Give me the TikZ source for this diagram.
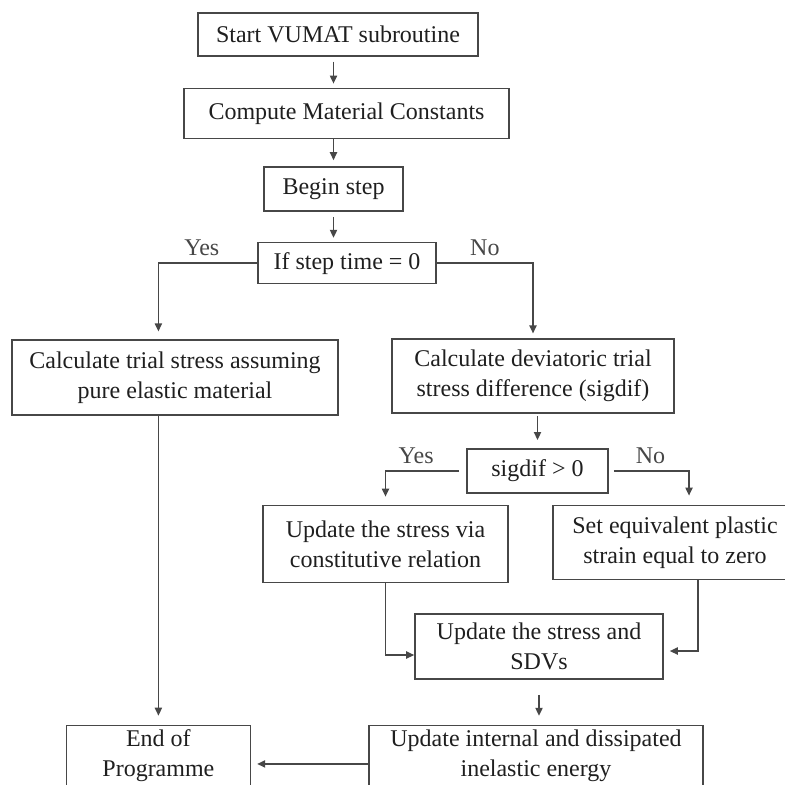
\documentclass[tikz,border=0pt]{standalone}
\usepackage{fontspec}
\setmainfont{Liberation Serif}
\usetikzlibrary{arrows.meta, positioning}
\begin{document}
\begin{tikzpicture}[
    x=0.5pt, y=-0.5pt,
    font=\fontsize{12pt}{15pt}\selectfont,
    stage/.style={
        rectangle, draw=black!72, line width=0.8pt,
        align=center, text=black!88, inner sep=2pt
    },
    arrow/.style={-{Triangle[length=4pt,width=3.6pt]}, line width=0.7pt, color=black!72}
]
\useasboundingbox (0,0) rectangle (785,784);
\clip (0,0) rectangle (785,784);
\node (start) [stage, minimum width=140pt, minimum height=21.5pt, anchor=north] at (338,12) {Start VUMAT subroutine};
\node (consts) [stage, minimum width=162.5pt, minimum height=25pt, below=15.5pt of start, xshift=4.25pt] {Compute Material Constants};
\node (bstep) [stage, minimum width=69.5pt, minimum height=22pt, below=13.5pt of consts, xshift=-6.5pt] {Begin step};
\node (tcheck) [stage, minimum width=89pt, minimum height=20.5pt, below=15pt of bstep, xshift=6.75pt] {If step time = 0};
\node (elastic) [stage, minimum width=163pt, minimum height=37.5pt, below=27.5pt of tcheck, xshift=-86pt] {Calculate trial stress assuming\\pure elastic material};
\node (deviat) [stage, minimum width=141pt, minimum height=37pt, below=27pt of tcheck, xshift=93pt] {Calculate deviatoric trial\\stress difference (sigdif)};
\node (sigcheck) [stage, minimum width=70.5pt, minimum height=22pt, below=17pt of deviat, xshift=2.25pt] {sigdif > 0};
\node (constit) [stage, minimum width=122.5pt, minimum height=38.5pt, below=5.5pt of sigcheck, xshift=-76pt] {Update the stress via\\constitutive relation};
\node (setzero) [stage, minimum width=122pt, minimum height=37pt, below=5.5pt of sigcheck, xshift=68.75pt] {Set equivalent plastic\\strain equal to zero};
\node (sdv) [stage, minimum width=124pt, minimum height=32.5pt, below=15pt of constit, xshift=76.75pt] {Update the stress and\\SDVs};
\node (energy) [stage, minimum width=167pt, minimum height=38pt, below=22.5pt of sdv, xshift=-1.5pt] {Update internal and dissipated\\inelastic energy\\[-4pt]\mbox{}};
\node (endprog) [stage, minimum width=92pt, minimum height=38pt, left=58.5pt of energy] {End of\\Programme\\[-4pt]\mbox{}};
\draw [arrow, shorten <=2.5pt, shorten >=2pt] (start.south -| bstep) -- (consts.north -| bstep);
\draw [arrow, shorten >=3pt] (consts.south -| bstep) -- (bstep.north);
\draw [arrow, shorten <=2.5pt, shorten >=2pt] (bstep.south) -- (tcheck.north -| bstep);
\draw [arrow, shorten >=4pt] (tcheck.west) -| node[pos=0.28, above] {Yes} (elastic.north -| endprog.north);
\draw [arrow, shorten >=2.5pt] (tcheck.east) -| node[pos=0.25, above] {No} (deviat.north);
\draw [arrow, shorten <=1pt, shorten >=4pt] (deviat.south -| sigcheck) -- (sigcheck.north);
\draw [arrow, shorten <=3.5pt, shorten >=4pt] (sigcheck.west) -| node[pos=0.31, above] {Yes} (constit.north);
\draw [arrow, shorten <=2.5pt, shorten >=4.5pt] (sigcheck.east) -| node[pos=0.26, above] {No} ([xshift=7pt]setzero.north);
\draw [arrow] (constit.south) |- ([yshift=-4.25pt]sdv.west);
\draw [arrow, shorten >=3pt] ([xshift=11.5pt]setzero.south) |- ([yshift=-2.25pt]sdv.east);
\draw [arrow, shorten <=7.5pt, shorten >=4.5pt] (sdv.south) -- (energy.north -| sdv.south);
\draw [arrow, shorten >=4.5pt] (elastic.south -| endprog) -- (endprog.north);
\draw [arrow, shorten >=3pt] (energy.west) -- (endprog.east);
\end{tikzpicture}
\end{document}
